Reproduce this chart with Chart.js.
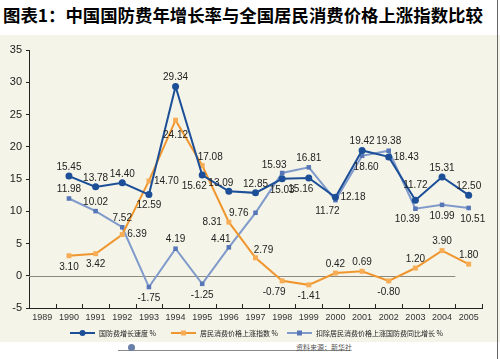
<!DOCTYPE html>
<html><head><meta charset="utf-8">
<script src="https://cdn.jsdelivr.net/npm/chart.js@4.4.1/dist/chart.umd.min.js"></script>
<style>
html,body{margin:0;padding:0;background:#fff;}
#wrap{position:relative;width:500px;height:359px;overflow:hidden;}
#title{position:absolute;left:3px;top:2px;font-family:"Noto Sans CJK SC";font-weight:bold;font-size:17.4px;line-height:26px;color:#000;white-space:nowrap;}
#plot{position:absolute;left:0;top:35px;width:500px;height:307px;background:#f4f4e8;}
#rline{position:absolute;left:497px;top:0;width:1px;height:359px;background:#666;}
#foot{position:absolute;left:118px;top:350px;width:232px;height:1px;background:#888;}
#icon{position:absolute;left:128px;top:344px;width:7px;height:7px;border-radius:50%;background:#6a7fa8;}
#src{position:absolute;left:296px;top:342px;font-family:"Noto Sans CJK SC";font-size:7px;color:#555;white-space:nowrap;}
</style></head>
<body>
<div id="wrap">
<div id="title">图表1：中国国防费年增长率与全国居民消费价格上涨指数比较</div>
<div id="plot"><canvas id="c" width="500" height="307"></canvas></div>
<div id="rline"></div>
<div id="foot"></div><div id="icon"></div>
<div id="src">资料来源：新华社</div>
</div>
<script>
const categories = ['1989','1990','1991','1992','1993','1994','1995','1996','1997','1998','1999','2000','2001','2002','2003','2004','2005'];
const defenseGrowth = [null,15.45,13.78,14.40,12.59,29.34,15.62,13.09,12.85,15.03,15.16,12.18,19.42,18.43,11.72,15.31,12.50];
const cpiIndex = [null,3.10,3.42,6.39,14.70,24.12,17.08,8.31,2.79,-0.79,-1.41,0.42,0.69,-0.80,1.20,3.90,1.80];
const realGrowth = [null,11.98,10.02,7.52,-1.75,4.19,-1.25,4.41,9.76,15.93,16.81,11.72,18.60,19.38,10.39,10.99,10.51];
const seriesNames = ['国防费增长速度 %','居民消费价格上涨指数 %','扣除居民消费价格上涨国防费同比增长 %'];
const yTicks = [-5,0,5,10,15,20,25,30,35];

// label placement codes (style)
const place = [
  [null,'a','a','a','b','a','bl','al','a','b','bl','r','a','r','a2','a','a'],
  [null,'b','b','r','r','b2','ar','l','ar','bl','b','a','a','b','a','a','a'],
  [null,'a','a','a','b','a','b','al','l','al','a','bl','br','a','bl','b','br']
];
const offs = {
  a:[0,-9,'center'], a2:[0,-15,'center'], b:[0,11,'center'], b2:[0,15,'center'],
  bl:[-8,11,'center'], br:[4,11,'center'], al:[-8,-8,'center'], ar:[8,-8,'center'],
  r:[5,0,'left'], l:[-7,0,'right']
};

const labelPlugin = {
  id:'labels',
  afterDatasetsDraw(chart){
    const ctx = chart.ctx;
    ctx.save();
    ctx.font = '10px "Liberation Sans", Arial, sans-serif';
    ctx.fillStyle = '#222';
    ctx.textBaseline = 'middle';
    chart.data.datasets.forEach((ds,di)=>{
      const meta = chart.getDatasetMeta(di);
      meta.data.forEach((pt,i)=>{
        const v = ds.data[i];
        if (v===null) return;
        const o = offs[place[di][i]];
        ctx.textAlign = o[2];
        ctx.fillText(v.toFixed(2), pt.x+o[0], pt.y+o[1]);
      });
    });
    ctx.restore();
  }
};

const axisPlugin = {
  id:'axisExtras',
  beforeDatasetsDraw(chart){
    const ctx = chart.ctx, x = chart.scales.x, y = chart.scales.y;
    const step = x.getPixelForValue(1)-x.getPixelForValue(0);
    ctx.save();
    ctx.strokeStyle = '#8a8a80'; ctx.lineWidth = 1;
    const y0 = Math.round(y.getPixelForValue(0))+0.5;
    ctx.beginPath(); ctx.moveTo(chart.chartArea.left, y0);
    ctx.lineTo(x.getPixelForValue(categories.length-1)-step/2, y0); ctx.stroke();
    ctx.strokeStyle = '#222';
    const yb = chart.chartArea.bottom;
    for (let i=0;i<=categories.length;i++){
      const px = Math.round(x.getPixelForValue(i)-step/2)+0.5;
      ctx.beginPath(); ctx.moveTo(px,yb); ctx.lineTo(px,yb-4); ctx.stroke();
    }
    ctx.restore();
  },
  afterDraw(chart){
    const ctx = chart.ctx;
    const items = [
      {x:70, c:'#1c4f97', m:'#1c4f97', s:'circle'},
      {x:171, c:'#f0962e', m:'#f7ad55', s:'rect'},
      {x:287, c:'#7f9acb', m:'#5676b8', s:'rect'}
    ];
    const ly = 298;
    ctx.save();
    ctx.font = '7px "Noto Sans CJK SC"';
    ctx.textBaseline = 'middle'; ctx.textAlign='left';
    items.forEach((it,k)=>{
      ctx.strokeStyle = it.c; ctx.lineWidth = 2;
      ctx.beginPath(); ctx.moveTo(it.x, ly); ctx.lineTo(it.x+25, ly); ctx.stroke();
      ctx.fillStyle = it.m;
      if (it.s==='circle'){ ctx.beginPath(); ctx.arc(it.x+12.5, ly, 3, 0, Math.PI*2); ctx.fill(); }
      else { ctx.fillRect(it.x+10, ly-2.5, 5, 5); }
      ctx.fillStyle = '#222';
      ctx.fillText(seriesNames[k], it.x+29, ly);
    });
    ctx.restore();
  }
};

new Chart(document.getElementById('c'), {
  type:'line',
  data:{
    labels:categories,
    datasets:[
      {label:seriesNames[0], data:defenseGrowth, borderColor:'#1c4f97', backgroundColor:'#1c4f97', borderWidth:2, pointStyle:'circle', pointRadius:3.5, pointBorderWidth:0, tension:0},
      {label:seriesNames[1], data:cpiIndex, borderColor:'#f0962e', backgroundColor:'#f7ad55', borderWidth:2, pointStyle:'rect', pointRadius:3.5, pointBorderWidth:0, tension:0},
      {label:seriesNames[2], data:realGrowth, borderColor:'#7f9acb', backgroundColor:'#5676b8', borderWidth:2, pointStyle:'rect', pointRadius:3.2, pointBorderWidth:0, tension:0}
    ]
  },
  options:{
    responsive:false, animation:false, devicePixelRatio:1,
    layout:{padding:{top:15,right:18,bottom:22,left:0}},
    plugins:{legend:{display:false}, title:{display:false}, tooltip:{enabled:false}},
    scales:{
      x:{
        offset:true,
        grid:{display:true, drawOnChartArea:false, drawTicks:false, offset:true},
        border:{color:'#222', width:1},
        ticks:{font:{size:9, family:'"Liberation Sans", Arial'}, color:'#333', padding:4, maxRotation:0, autoSkip:false},
        afterFit(s){ s.height = 12; }
      },
      y:{
        min:-5, max:35,
        afterBuildTicks(s){ s.ticks = yTicks.map(v=>({value:v})); },
        grid:{drawOnChartArea:false, drawTicks:true, tickLength:3, color:'#222'},
        border:{color:'#222', width:1},
        ticks:{font:{size:11, family:'"Liberation Sans", Arial'}, color:'#222', padding:4},
        afterFit(s){ s.width = 29; }
      }
    }
  },
  plugins:[labelPlugin, axisPlugin]
});
</script>
</body></html>
